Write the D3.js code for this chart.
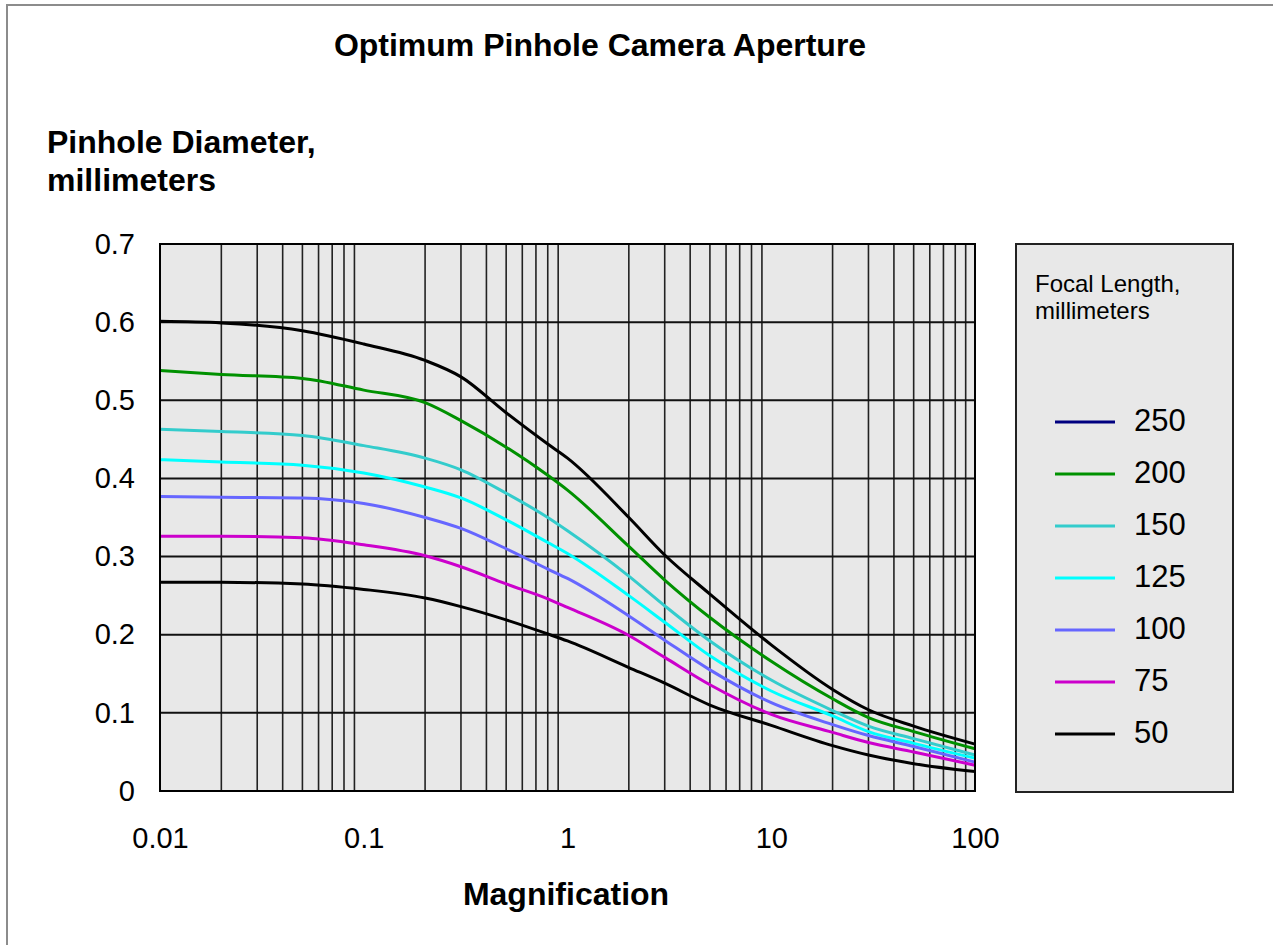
<!DOCTYPE html>
<html>
<head>
<meta charset="utf-8">
<script src="https://cdn.jsdelivr.net/npm/d3@7"></script>
<style>
body { margin: 0; background: #fff; }
text { font-family: "Liberation Sans", Arial, Helvetica, sans-serif; fill: #000; }
</style>
</head>
<body>
<svg id="chart"></svg>
<script>
// values
let magnification = [0.01, 0.02, 0.05, 0.1, 0.2, 0.3, 0.5, 0.8, 1, 2, 3, 5, 10, 20, 30, 50, 100]
let focalLengths = [250, 200, 150, 125, 100, 75, 50]
let d250 = [0.601, 0.599, 0.589, 0.572, 0.551, 0.530, 0.484, 0.444, 0.426, 0.350, 0.302, 0.252, 0.187, 0.130, 0.104, 0.083, 0.060]
let d200 = [0.538, 0.533, 0.528, 0.513, 0.497, 0.474, 0.440, 0.404, 0.385, 0.313, 0.270, 0.222, 0.166, 0.118, 0.094, 0.076, 0.054]
let d150 = [0.463, 0.460, 0.455, 0.442, 0.426, 0.411, 0.381, 0.350, 0.333, 0.275, 0.237, 0.192, 0.142, 0.103, 0.083, 0.067, 0.046]
let d125 = [0.424, 0.421, 0.417, 0.407, 0.389, 0.375, 0.347, 0.318, 0.304, 0.250, 0.216, 0.173, 0.128, 0.096, 0.076, 0.061, 0.042]
let d100 = [0.377, 0.376, 0.375, 0.368, 0.350, 0.336, 0.310, 0.284, 0.272, 0.224, 0.193, 0.155, 0.113, 0.085, 0.071, 0.057, 0.037]
let d75  = [0.326, 0.326, 0.324, 0.315, 0.301, 0.287, 0.265, 0.246, 0.235, 0.199, 0.171, 0.136, 0.098, 0.075, 0.062, 0.050, 0.033]
let d50  = [0.267, 0.267, 0.265, 0.258, 0.247, 0.236, 0.219, 0.201, 0.192, 0.158, 0.138, 0.110, 0.084, 0.058, 0.046, 0.035, 0.025]
let diameters = [d250, d200, d150, d125, d100, d75, d50]

// the 250 curve is drawn black in the plot, navy only in the key
let lineColors = ['#000000', '#009100', '#33cccc', '#00ffff', '#6666ff', '#cc00cc', '#000000']
let keyColors = ['#000080', '#009100', '#33cccc', '#00ffff', '#6666ff', '#cc00cc', '#000000']

let xTicks = [0.01, 0.1, 1, 10, 100]
let xTickLabels = ['0.01', '0.1', '1', '10', '100']
let yTicks = [0, 0.1, 0.2, 0.3, 0.4, 0.5, 0.6, 0.7]

let svgWidth = 1273, svgHeight = 945
let plot = {left: 160, right: 975, top: 244, bottom: 791}

let svg = d3.select('#chart').attr('width', svgWidth).attr('height', svgHeight)

// outer frame
svg.append('rect')
  .attr('x', 7).attr('y', 5).attr('width', 1400).attr('height', 1100)
  .attr('fill', '#fff').attr('stroke', '#8c8c8c').attr('stroke-width', 2)

let x = d3.scaleLog().domain([0.01, 100]).range([plot.left, plot.right])
let y = d3.scaleLinear().domain([0, 0.7]).range([plot.bottom, plot.top])

// plot background
svg.append('rect')
  .attr('x', plot.left).attr('y', plot.top)
  .attr('width', plot.right - plot.left).attr('height', plot.bottom - plot.top)
  .attr('fill', '#e8e8e8')

// vertical grid: 2..9 of each decade, no line on the decades
let minor = x.ticks().filter(d => Math.abs(Math.log10(d) - Math.round(Math.log10(d))) > 1e-6)
svg.append('g').selectAll('line').data(minor).enter().append('line')
  .attr('x1', d => x(d)).attr('x2', d => x(d))
  .attr('y1', plot.top).attr('y2', plot.bottom)
  .attr('stroke', '#222').attr('stroke-width', 1.6)

svg.append('g').selectAll('line').data(yTicks.slice(1, -1)).enter().append('line')
  .attr('x1', plot.left).attr('x2', plot.right)
  .attr('y1', d => y(d)).attr('y2', d => y(d))
  .attr('stroke', '#111').attr('stroke-width', 2)

// curves
let line = d3.line()
  .x(d => x(d[0]))
  .y(d => y(d[1]))
  .curve(d3.curveMonotoneX)

let curves = svg.append('g')
diameters.forEach((vals, i) => {
  curves.append('path')
    .datum(magnification.map((m, j) => [m, vals[j]]))
    .attr('d', line)
    .attr('fill', 'none')
    .attr('stroke', lineColors[i])
    .attr('stroke-width', 3)
})

// plot border
svg.append('rect')
  .attr('x', plot.left).attr('y', plot.top)
  .attr('width', plot.right - plot.left).attr('height', plot.bottom - plot.top)
  .attr('fill', 'none').attr('stroke', '#000').attr('stroke-width', 2)

// axes
let xAxis = d3.axisBottom(x).tickValues(xTicks).tickSize(0).tickPadding(36)
  .tickFormat((d, i) => xTickLabels[i])
let gx = svg.append('g').attr('transform', `translate(0,${plot.bottom})`).call(xAxis)
gx.select('.domain').remove()
gx.selectAll('text').style('font-size', '29px').attr('font-family', null)

let yAxis = d3.axisLeft(y).tickValues(yTicks).tickSize(0).tickPadding(25)
  .tickFormat(d => d === 0 ? '0' : d3.format('.1f')(d))
let gy = svg.append('g').attr('transform', `translate(${plot.left},0)`).call(yAxis)
gy.select('.domain').remove()
gy.selectAll('text').style('font-size', '29px').attr('font-family', null)

// titles
svg.append('text').text('Optimum Pinhole Camera Aperture')
  .attr('x', 600).attr('y', 56).attr('text-anchor', 'middle')
  .style('font-size', '32px').style('font-weight', 'bold')

svg.append('text').text('Pinhole Diameter,')
  .attr('x', 47).attr('y', 153)
  .style('font-size', '32px').style('font-weight', 'bold')
svg.append('text').text('millimeters')
  .attr('x', 47).attr('y', 191)
  .style('font-size', '32px').style('font-weight', 'bold')

svg.append('text').text('Magnification')
  .attr('x', 566).attr('y', 905).attr('text-anchor', 'middle')
  .style('font-size', '32px').style('font-weight', 'bold')

// key
let key = svg.append('g')
key.append('rect')
  .attr('x', 1016).attr('y', 244).attr('width', 217).attr('height', 548)
  .attr('fill', '#e8e8e8').attr('stroke', '#222').attr('stroke-width', 2)
key.append('text').text('Focal Length,').attr('x', 1035).attr('y', 292).style('font-size', '24px')
key.append('text').text('millimeters').attr('x', 1035).attr('y', 319).style('font-size', '24px')

let keyY = d3.scalePoint().domain(focalLengths).range([420, 732])
let items = key.selectAll('g.item').data(focalLengths).enter().append('g').attr('class', 'item')
items.append('line')
  .attr('x1', 1055).attr('x2', 1115)
  .attr('y1', d => keyY(d) + 2).attr('y2', d => keyY(d) + 2)
  .attr('stroke', (d, i) => keyColors[i]).attr('stroke-width', 3)
items.append('text').text(d => d)
  .attr('x', 1134).attr('y', d => keyY(d)).attr('dy', '0.35em')
  .style('font-size', '31px')
</script>
</body>
</html>
